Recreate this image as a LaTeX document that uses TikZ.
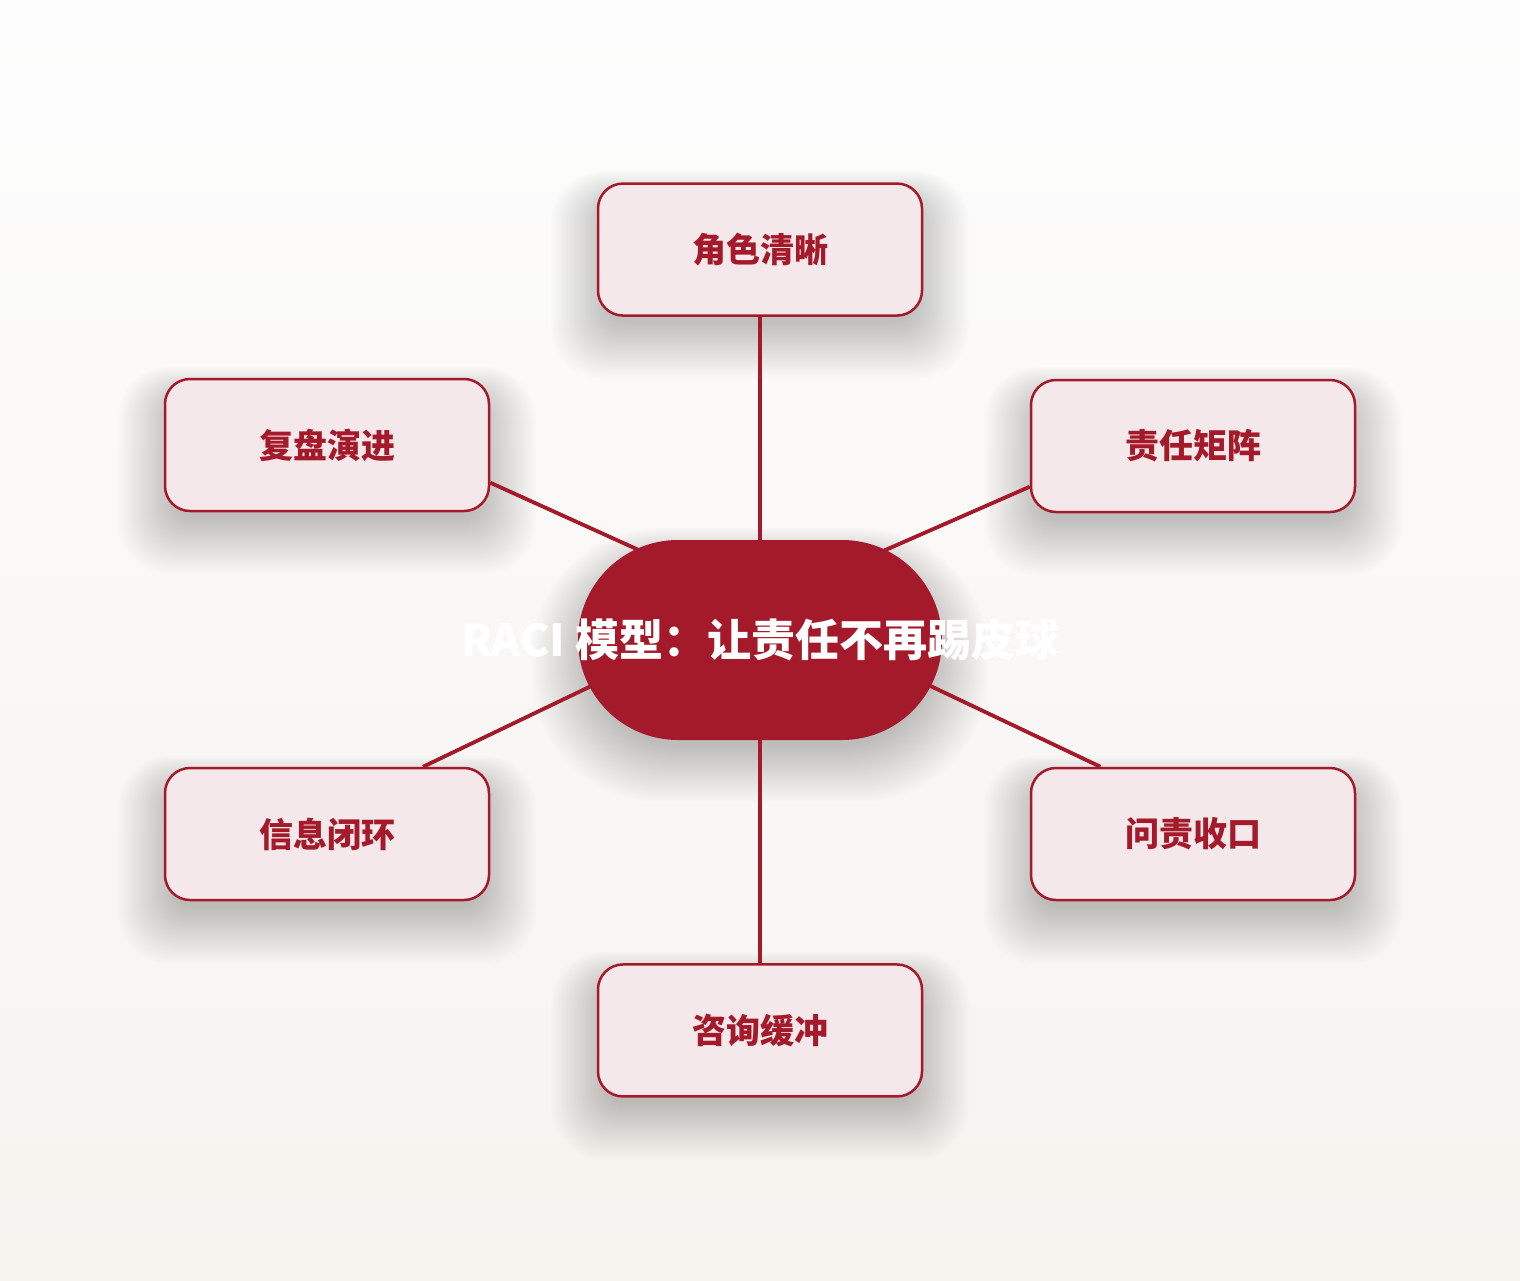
\documentclass[tikz,border=0pt]{standalone}
\usepackage{fontspec}
\setmainfont{Noto Sans CJK SC}
\usetikzlibrary{positioning}
\definecolor{racired}{HTML}{A51A2A}
\definecolor{racipink}{HTML}{F4E8EA}
\definecolor{bgtop}{HTML}{FDFDFD}
\definecolor{bgbottom}{HTML}{F6F3EF}
\pgfdeclarelayer{canvas}
\pgfdeclarelayer{glow}
\pgfdeclarelayer{edges}
\pgfsetlayers{canvas,glow,edges,main}
% soft shadow under a node: name, corner radius
\newcommand{\softshadow}[2]{%
  \begin{pgfonlayer}{glow}
    \foreach \s in {-10,-8,...,46}{
      \fill[black, opacity=0.0085, rounded corners=#2+\s*0.6pt]
        ([xshift=-\s pt, yshift=-16pt-\s pt]#1.south west) rectangle ([xshift=\s pt, yshift=-16pt+\s*0.6pt]#1.north east);
    }
  \end{pgfonlayer}}

\begin{document}
\begin{tikzpicture}[x=1pt, y=-1pt, node distance=223pt and 270pt]
    % Styles
    \tikzstyle{topic}=[rectangle, draw=racired, line width=2.5pt, rounded corners=25pt, fill=racipink, minimum width=324pt, minimum height=132pt, text=racired, font=\bfseries\fontsize{34}{40}\selectfont]
    \tikzstyle{core}=[rectangle, rounded corners=100pt, fill=racired, minimum width=364pt, minimum height=200pt, text=white, font=\bfseries\fontsize{44}{50}\selectfont]
    \tikzstyle{link}=[draw=racired, line width=3.8pt]

    \useasboundingbox (0,0) rectangle (1520,1280);
    \begin{pgfonlayer}{canvas}
        \shade[top color=bgtop, bottom color=bgbottom] (0,0) rectangle (1520,1280);
    \end{pgfonlayer}

    % Centre
    \node (core) [core] at (760,640) {\makebox[0pt]{RACI 模型：让责任不再踢皮球}};
    \coordinate (hub) at (760,605);

    % Top and bottom
    \node (roles) [topic, above=of core] {角色清晰};
    \node (consult) [topic, below=of core] {咨询缓冲};

    % Sides
    \node (matrix) [topic] at (1193,446) {责任矩阵};
    \node (review) [topic] at (327,445) {复盘演进};
    \node (loop) [topic] at (327,834) {信息闭环};
    \node (account) [topic] at (1193,834) {问责收口};

    % Shadows
    \softshadow{core}{100pt}
    \foreach \n in {roles,consult,matrix,review,loop,account}
        \softshadow{\n}{25pt};

    % Links
    \begin{pgfonlayer}{edges}
        \draw[link] (roles.south) -- (core.north);
        \draw[link] (consult.north) -- (core.south);
        \draw[link] (review.-13.5) -- (hub);
        \draw[link] (matrix.-166.2) -- (hub);
        \draw[link] (loop.35.8) -- (hub);
        \draw[link] (account.144.2) -- (hub);
    \end{pgfonlayer}

\end{tikzpicture}
\end{document}
